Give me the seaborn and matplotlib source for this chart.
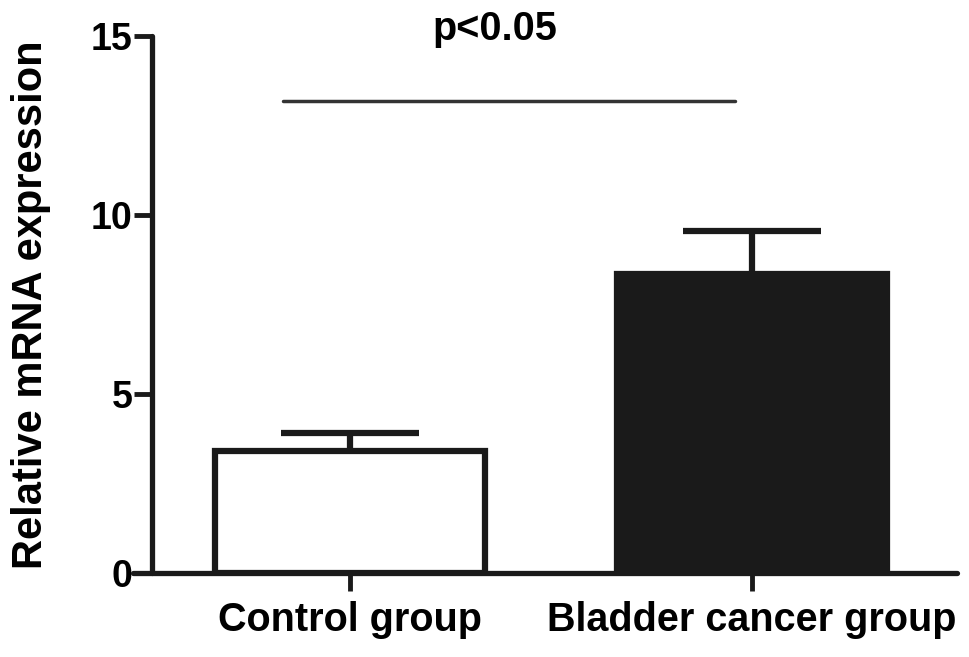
import matplotlib
matplotlib.use('Agg')
import matplotlib.pyplot as plt
import seaborn as sns

# Datos
groups = ['Control group', 'Bladder cancer group']
means = [3.41, 8.35]
err_up = [0.51, 1.19]
bar_colors = ['white', '#1a1a1a']
yticks = [0, 5, 10, 15]
sig_text = 'p<0.05'
sig_y = 13.17

sns.set_style('ticks')
plt.rcParams['font.family'] = ['Liberation Sans', 'DejaVu Sans']
plt.rcParams['font.weight'] = 'bold'
plt.rcParams['axes.labelweight'] = 'bold'
plt.rcParams['text.color'] = 'black'
plt.rcParams['axes.labelcolor'] = 'black'
plt.rcParams['xtick.labelcolor'] = 'black'
plt.rcParams['ytick.labelcolor'] = 'black'

fig = plt.figure(figsize=(9.69, 6.57), dpi=100)
ax = fig.add_axes([0.1373, 0.1279, 0.8503, 0.8174])

sns.barplot(x=groups, y=means, hue=groups, palette=bar_colors, legend=False,
            edgecolor='#1a1a1a', linewidth=4.5, width=0.67, errorbar=None,
            saturation=1, ax=ax)

# Barras de error (solo hacia arriba)
eb = ax.errorbar([0, 1], means, yerr=[[0, 0], err_up], fmt='none',
                 ecolor='#1a1a1a', elinewidth=4.5, capsize=50, capthick=4.5,
                 zorder=1)
eb[1][0].set_visible(False)
for c in eb[1]:
    c.set_solid_capstyle('round')

# Línea de significancia
ax.plot([-0.167, 0.958], [sig_y, sig_y], color='#333333', lw=2.5,
        solid_capstyle='round')
ax.text(0.36, 14.9, sig_text, ha='center', va='baseline', fontsize=28.5,
        fontweight='bold', clip_on=False)

ax.set_xlim(-0.54, 1.51)
ax.set_ylim(0, 15)
ax.set_yticks(yticks)
ax.spines['top'].set_visible(False)
ax.spines['right'].set_visible(False)
ax.spines['left'].set_position(('data', -0.4925))
for s in ['left', 'bottom']:
    ax.spines[s].set_linewidth(3.8)
    ax.spines[s].set_color('#1a1a1a')
    ax.spines[s].set_capstyle('round')

ax.tick_params(axis='y', length=13, width=3.5, color='#1a1a1a', pad=1,
               labelsize=27)
ax.tick_params(axis='x', length=13, width=3.5, color='#1a1a1a', pad=7,
               labelsize=28.5)
ax.set_xlabel('')
ax.set_ylabel('Relative mRNA expression', fontsize=30)
ax.yaxis.set_label_coords(-0.10, 0.5)

plt.savefig('out.png', dpi=100)
